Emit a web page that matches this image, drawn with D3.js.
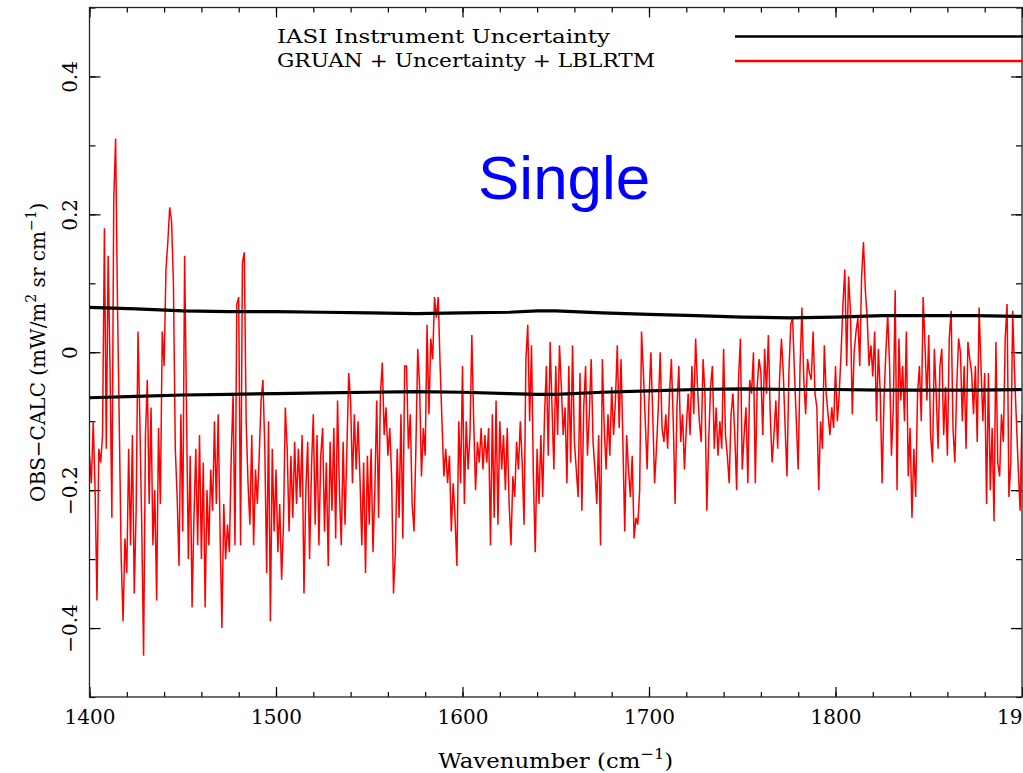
<!DOCTYPE html>
<html>
<head>
<meta charset="utf-8">
<script src="https://cdn.jsdelivr.net/npm/d3@7"></script>
<style>
  body { margin: 0; background: #fff; }
  svg { display: block; }
  .tick text { font-family: "DejaVu Serif", serif; font-size: 20px; fill: #000; }
</style>
</head>
<body>
<div id="chart"></div>
<script>
// Wavenumber grid for the red spectrum (cm-1)
const wnStart = 1400;
const wnStep = 1;

// OBS-CALC, GRUAN + Uncertainty + LBLRTM (mW/m2 sr cm-1), 1400..1900
const obsCalc = [
  -0.15, -0.19, -0.10, -0.20, -0.36, -0.14, -0.16, -0.12, 0.18, -0.14,
  0.14, -0.02, -0.24, 0.22, 0.31, 0.07, -0.11, -0.30, -0.39, -0.27,
  -0.32, -0.14, -0.28, -0.12, -0.35, -0.23, 0.03, -0.10, -0.25, -0.44,
  -0.12, -0.04, -0.22, -0.08, -0.28, -0.20, -0.36, -0.11, -0.22, 0.03,
  -0.02, 0.12, 0.16, 0.21, 0.19, 0.10, -0.14, -0.21, -0.31, -0.09,
  -0.26, 0.14, -0.08, -0.30, -0.15, -0.37, -0.24, -0.14, -0.28, -0.12,
  -0.30, -0.16, -0.37, -0.20, -0.28, -0.17, -0.23, -0.10, -0.22, -0.09,
  -0.26, -0.40, -0.22, -0.30, -0.25, -0.29, -0.15, -0.06, -0.28, 0.07,
  0.08, -0.28, 0.13, 0.145, -0.10, -0.19, -0.25, -0.12, -0.28, -0.17,
  -0.22, -0.15, -0.07, -0.04, -0.14, -0.32, -0.10, -0.39, -0.14, -0.26,
  -0.17, -0.29, -0.22, -0.33, -0.25, -0.08, -0.14, -0.26, -0.15, -0.24,
  -0.13, -0.22, -0.14, -0.21, -0.12, -0.35, -0.20, -0.13, -0.30, -0.17,
  -0.09, -0.25, -0.12, -0.28, -0.15, -0.11, -0.26, -0.16, -0.31, -0.13,
  -0.23, -0.11, -0.27, -0.07, -0.20, -0.28, -0.13, -0.25, -0.14, -0.03,
  -0.07, -0.19, -0.09, -0.17, -0.10, -0.18, -0.28, -0.16, -0.32, -0.15,
  -0.25, -0.14, -0.29, -0.20, -0.07, -0.24, -0.06, -0.015, -0.12, -0.08,
  -0.15, -0.11, -0.18, -0.35, -0.29, -0.14, -0.24, -0.09, -0.27, -0.02,
  -0.02, -0.14, -0.09, -0.22, -0.26, -0.14, 0.005, -0.05, -0.18, -0.11,
  -0.15, 0.04, -0.09, 0.02, -0.01, 0.08, 0.05, 0.08, -0.02, -0.10,
  -0.18, -0.14, -0.19, -0.15, -0.26, -0.19, -0.24, -0.31, -0.10, -0.19,
  -0.02, -0.22, -0.10, -0.17, -0.12, 0.025, -0.10, -0.20, -0.13, -0.16,
  -0.11, -0.17, -0.12, -0.16, -0.11, -0.28, -0.09, -0.24, -0.07, -0.25,
  -0.10, -0.17, -0.12, -0.20, -0.11, -0.22, -0.28, -0.18, -0.21, -0.13,
  -0.17, -0.10, -0.16, -0.25, -0.01, 0.04, -0.10, 0.01, -0.18, -0.29,
  -0.14, -0.22, -0.12, -0.21, -0.09, -0.02, -0.15, 0.015, -0.08, -0.17,
  -0.02, -0.12, 0.01, -0.05, -0.12, -0.08, -0.19, -0.02, -0.16, 0.01,
  -0.13, -0.17, -0.21, -0.03, -0.23, -0.08, -0.02, -0.15, -0.09, -0.01,
  -0.13, -0.17, -0.22, -0.12, -0.28, -0.01, -0.11, -0.17, -0.09, -0.15,
  -0.05, -0.12, -0.07, 0.01, -0.11, -0.01, -0.13, -0.26, -0.12, -0.17,
  -0.21, -0.15, -0.27, -0.24, -0.25, -0.20, 0.03, -0.03, -0.10, -0.17,
  -0.07, 0.00, -0.09, -0.19, -0.14, -0.08, 0.00, -0.11, -0.13, -0.09,
  -0.14, -0.06, -0.01, -0.10, -0.22, -0.08, -0.02, -0.13, -0.09, -0.17,
  -0.11, -0.06, -0.12, -0.02, -0.09, 0.02, -0.05, -0.10, -0.13, -0.01,
  -0.06, -0.23, -0.13, -0.05, -0.02, -0.14, -0.08, -0.15, -0.10, -0.14,
  0.005, -0.12, -0.15, -0.19, -0.09, -0.06, -0.12, -0.20, -0.04, 0.02,
  -0.17, -0.12, -0.08, -0.19, -0.04, -0.06, 0.00, -0.19, -0.05, -0.01,
  -0.03, -0.12, 0.005, -0.06, 0.025, -0.09, -0.16, -0.12, -0.07, -0.14,
  -0.04, 0.02, -0.03, -0.11, -0.18, -0.03, 0.04, 0.05, -0.03, -0.10,
  -0.17, -0.02, 0.065, -0.04, -0.09, -0.01, -0.03, -0.04, 0.03, -0.06,
  -0.08, -0.20, -0.10, -0.14, 0.01, -0.06, -0.09, -0.12, -0.08, -0.11,
  -0.02, -0.10, -0.06, 0.00, 0.07, 0.12, -0.02, 0.11, 0.06, -0.09,
  0.00, 0.03, 0.05, -0.02, 0.11, 0.16, 0.09, 0.05, -0.02, 0.01,
  -0.035, 0.03, -0.10, 0.005, -0.06, -0.19, -0.07, 0.00, 0.055, -0.02,
  -0.15, -0.08, 0.09, -0.20, 0.02, -0.07, -0.02, -0.10, 0.03, -0.18,
  -0.11, -0.24, -0.14, -0.21, -0.06, -0.02, -0.10, 0.08, 0.01, -0.07,
  0.025, -0.12, -0.16, 0.005, -0.06, -0.14, -0.02, 0.005, -0.12, -0.05,
  -0.15, 0.02, 0.06, -0.11, -0.16, -0.05, 0.02, 0.00, -0.10, -0.02,
  -0.14, 0.015, -0.01, -0.03, -0.09, -0.02, -0.13, 0.065, -0.02, -0.10,
  -0.03, -0.22, -0.03, -0.20, -0.11, -0.245, 0.015, -0.16, -0.18, -0.09,
  -0.13, 0.02, 0.07, -0.21, -0.16, 0.06, -0.03, -0.10, -0.17, -0.23,
  -0.09
];

// IASI instrument uncertainty envelope (+ / -)
const uncWn = [1400, 1425, 1450, 1475, 1500, 1525, 1550, 1575, 1600, 1625, 1640,
  1650, 1675, 1700, 1725, 1750, 1775, 1800, 1825, 1850, 1875, 1900];
const uncUpper = [0.065, 0.063, 0.060, 0.059, 0.059, 0.058, 0.057, 0.056, 0.057, 0.058, 0.060,
  0.060, 0.057, 0.055, 0.053, 0.051, 0.050, 0.051, 0.053, 0.053, 0.053, 0.052];
const uncLower = [-0.066, -0.064, -0.062, -0.061, -0.060, -0.059, -0.058, -0.057, -0.058, -0.060, -0.061,
  -0.061, -0.058, -0.056, -0.054, -0.053, -0.054, -0.054, -0.055, -0.055, -0.055, -0.054];

const xMajor = [1400, 1500, 1600, 1700, 1800, 1900];
const yMajor = [-0.4, -0.2, 0, 0.2, 0.4];
const legendLabels = ['IASI Instrument Uncertainty', 'GRUAN + Uncertainty + LBLRTM'];
const legendColors = ['#000', '#ff0000'];

const width = 1023;
const height = 773;
const margin = { t: 7.5, r: 1, b: 76, l: 89.5 };
const W = width - margin.l - margin.r;
const H = height - margin.t - margin.b;

const scaleX = d3.scaleLinear().domain([1400, 1900]).range([0, W]);
const scaleY = d3.scaleLinear().domain([-0.5, 0.5]).range([H, 0]);

const svg = d3.select('#chart')
  .append('svg')
  .attr('width', width)
  .attr('height', height);

svg.append('rect').attr('width', width).attr('height', height).attr('fill', '#fff');

const g = svg.append('g').attr('transform', `translate(${margin.l}, ${margin.t})`);

g.append('defs')
  .append('clipPath')
  .attr('id', 'clip')
  .append('rect')
  .attr('width', W)
  .attr('height', H);

// Axes: ticks point inward on all four sides
const minorX = d3.range(1400, 1901, 20);
const minorY = d3.range(-5, 6).map(d => d / 10);
const fmtY = d => (d === 0 ? '0' : d3.format('.1f')(d));

function styleAxis(sel) {
  sel.select('.domain').remove();
  sel.selectAll('.tick line').attr('stroke', '#000').attr('stroke-width', 1.2);
}

g.append('g').attr('transform', `translate(0, ${H})`)
  .call(d3.axisBottom(scaleX).tickValues(minorX).tickSize(-5).tickFormat(''))
  .call(styleAxis);
g.append('g').attr('transform', `translate(0, ${H})`)
  .call(d3.axisBottom(scaleX).tickValues(xMajor).tickSize(-10).tickPadding(13).tickFormat(d3.format('d')))
  .call(styleAxis);
g.append('g')
  .call(d3.axisTop(scaleX).tickValues(minorX).tickSize(-5).tickFormat(''))
  .call(styleAxis);
g.append('g')
  .call(d3.axisTop(scaleX).tickValues(xMajor).tickSize(-10).tickFormat(''))
  .call(styleAxis);

g.append('g')
  .call(d3.axisLeft(scaleY).tickValues(minorY).tickSize(-6).tickFormat(''))
  .call(styleAxis);
const yAxisG = g.append('g')
  .call(d3.axisLeft(scaleY).tickValues(yMajor).tickSize(-11).tickFormat(fmtY))
  .call(styleAxis);
yAxisG.selectAll('.tick text')
  .attr('x', null)
  .attr('dy', null)
  .attr('text-anchor', 'middle')
  .attr('transform', 'translate(-13, 0) rotate(-90)');

g.append('g').attr('transform', `translate(${W}, 0)`)
  .call(d3.axisRight(scaleY).tickValues(minorY).tickSize(-6).tickFormat(''))
  .call(styleAxis);
g.append('g').attr('transform', `translate(${W}, 0)`)
  .call(d3.axisRight(scaleY).tickValues(yMajor).tickSize(-11).tickFormat(''))
  .call(styleAxis);

// Red spectrum
const spectrum = obsCalc.map((v, i) => ({ wn: wnStart + i * wnStep, v }));
const line = d3.line().x(d => scaleX(d.wn)).y(d => scaleY(d.v));

const plot = g.append('g').attr('clip-path', 'url(#clip)');

plot.append('path')
  .datum(spectrum)
  .attr('fill', 'none')
  .attr('stroke', '#ff0000')
  .attr('stroke-width', 1.5)
  .attr('stroke-linejoin', 'miter')
  .attr('d', line);

// Instrument uncertainty lines
[uncUpper, uncLower].forEach(arr => {
  plot.append('path')
    .datum(arr.map((v, i) => ({ wn: uncWn[i], v })))
    .attr('fill', 'none')
    .attr('stroke', '#000')
    .attr('stroke-width', 3.2)
    .attr('d', line);
});

// Frame
g.append('rect')
  .attr('width', W)
  .attr('height', H)
  .attr('fill', 'none')
  .attr('stroke', '#222')
  .attr('stroke-width', 1.3);

// Legend
const legend = svg.append('g').attr('class', 'legend');
legendLabels.forEach((lbl, i) => {
  const y = 36.5 + i * 24.5;
  legend.append('text')
    .attr('x', 277)
    .attr('y', y + 6)
    .attr('font-family', '"DejaVu Serif", serif')
    .attr('font-size', 19)
    .attr('textLength', i === 0 ? 333 : 378)
    .attr('lengthAdjust', 'spacingAndGlyphs')
    .text(lbl);
  legend.append('line')
    .attr('x1', 735)
    .attr('x2', width)
    .attr('y1', y)
    .attr('y2', y)
    .attr('stroke', legendColors[i])
    .attr('stroke-width', 2.5);
});

// Axis titles
const xTitle = svg.append('text')
  .attr('x', margin.l + W / 2)
  .attr('y', 768)
  .attr('text-anchor', 'middle')
  .attr('font-family', '"DejaVu Serif", serif')
  .attr('font-size', 21)
  .attr('textLength', 235)
  .attr('lengthAdjust', 'spacingAndGlyphs');
xTitle.append('tspan').text('Wavenumber (cm');
xTitle.append('tspan').attr('dy', -9).attr('font-size', 15).text('\u22121');
xTitle.append('tspan').attr('dy', 9).text(')');

const yTitle = svg.append('text')
  .attr('transform', `translate(45, ${margin.t + H / 2}) rotate(-90)`)
  .attr('text-anchor', 'middle')
  .attr('font-family', '"DejaVu Serif", serif')
  .attr('font-size', 20);
yTitle.append('tspan').text('OBS\u2212CALC (mW/m');
yTitle.append('tspan').attr('dy', -9).attr('font-size', 14).text('2');
yTitle.append('tspan').attr('dy', 9).text(' sr cm');
yTitle.append('tspan').attr('dy', -9).attr('font-size', 14).text('\u22121');
yTitle.append('tspan').attr('dy', 9).text(')');

// Panel tag
svg.append('text')
  .attr('x', 478)
  .attr('y', 199)
  .attr('font-family', '"Liberation Sans", Arial, sans-serif')
  .attr('font-size', 62)
  .attr('fill', '#0000ff')
  .text('Single');
</script>
</body>
</html>
